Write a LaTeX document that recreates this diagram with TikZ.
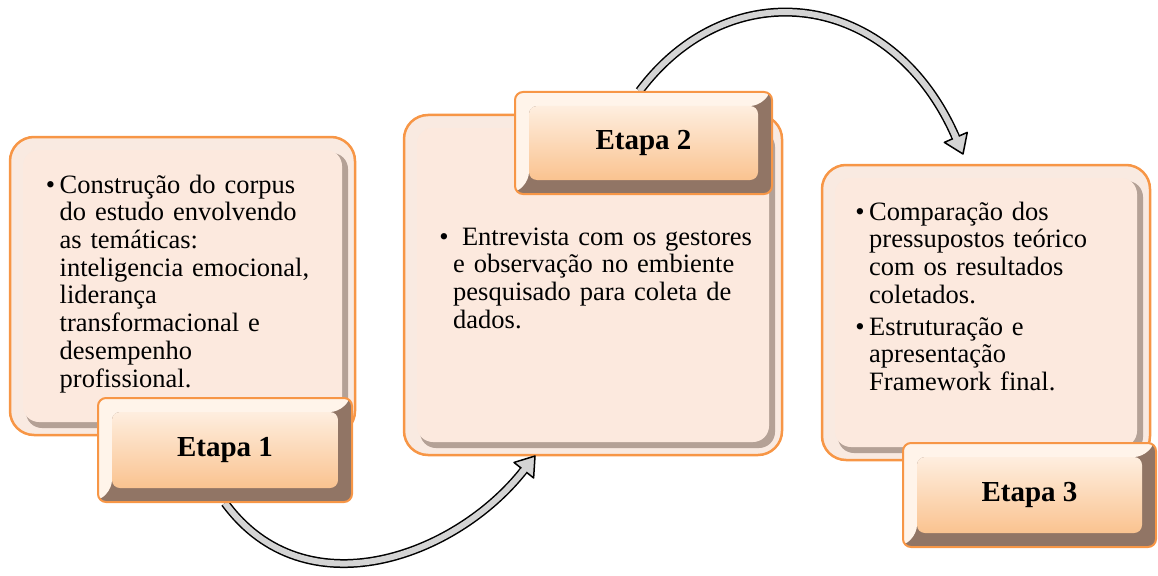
\documentclass[tikz,border=0pt]{standalone}
\usepackage{fontspec}
\setmainfont{Liberation Serif}
\usetikzlibrary{calc}
\definecolor{boxorange}{HTML}{F79646}
\definecolor{panelhi}{HTML}{F9EAE1}
\definecolor{panelshade}{HTML}{B4A196}
\definecolor{panelbg}{HTML}{FCE9DE}
\definecolor{etdark}{HTML}{917565}
\definecolor{ethi}{HTML}{FFF4EA}
\definecolor{ettop}{HTML}{FEEEDF}
\definecolor{etbot}{HTML}{FAC390}
\definecolor{shaftgray}{HTML}{D4D4D4}
\pgfdeclarelayer{panels}
\pgfdeclarelayer{arrows}
\pgfsetlayers{panels,arrows,main}
\newcommand{\bodyfont}{\fontsize{26.5}{27.7}\selectfont}
\begin{document}
\begin{tikzpicture}[x=1pt,y=-1pt,
  panel/.style={draw=boxorange, line width=2.5pt, rounded corners=24pt, fill=panelhi,
    inner sep=0pt,
    path picture={
      \fill[panelshade, rounded corners=16pt]
        ([shift={(16,16)}]path picture bounding box.north west) rectangle
        ([shift={(-7,-7)}]path picture bounding box.south east);
      \fill[panelbg, rounded corners=16pt]
        ([shift={(13,13)}]path picture bounding box.north west) rectangle
        ([shift={(-13,-13)}]path picture bounding box.south east);
    }},
  etapabox/.style={draw=boxorange, line width=2pt, rounded corners=8pt, fill=etdark,
    inner sep=0pt, font=\bfseries\fontsize{29}{32}\selectfont,
    path picture={
      \fill[ethi] (path picture bounding box.north west)
        -- (path picture bounding box.north east)
        -- ([shift={(-14,14)}]path picture bounding box.north east)
        -- ([shift={(14,14)}]path picture bounding box.north west)
        -- ([shift={(14,-14)}]path picture bounding box.south west)
        -- (path picture bounding box.south west) -- cycle;
      \shade[top color=ettop, bottom color=etbot]
        ([shift={(14,14)}]path picture bounding box.north west) rectangle
        ([shift={(-14,-14)}]path picture bounding box.south east);
    }},
  bodytext/.style={anchor=north west, inner sep=0pt, align=left, font=\bodyfont},
  shaft/.style={draw=black, line width=1.5pt, double=shaftgray, double distance=6pt},
  head/.style={fill=shaftgray, draw=black, line width=1.5pt, line join=round}
]
\useasboundingbox (0,0) rectangle (1158,575);

\begin{pgfonlayer}{panels}
\node[panel, minimum width=345pt, minimum height=298pt] (b1) at (182.5,286) {};
\node[panel, minimum width=378pt, minimum height=340pt] (b2) at (593,285) {};
\node[panel, minimum width=328pt, minimum height=295pt] (b3) at (986,312.5) {};

\node[bodytext, text width=300pt] (t1) at (59.5,173.6)
  {\strut\llap{\textbullet\hspace{4.5pt}}Construção do corpus\\
   do estudo envolvendo\\
   as temáticas:\\
   inteligencia emocional,\\
   liderança\\
   transformacional e\\
   desempenho\\
   profissional.};
\node[bodytext, text width=320pt] (t2) at (453,225.6)
  {\strut\llap{\textbullet\hspace{4.5pt}}\ Entrevista com os gestores\\
   e observação no embiente\\
   pesquisado para coleta de\\
   dados.};
\node[bodytext, text width=270pt] (t3) at (869,200.6)
  {\strut\llap{\textbullet\hspace{4.5pt}}Comparação dos\\
   pressupostos teórico\\
   com os resultados\\
   coletados.};
\node[bodytext, text width=270pt] (t3b) at (869,315.6)
  {\strut\llap{\textbullet\hspace{4.5pt}}Estruturação e\\
   apresentação\\
   Framework final.};
\end{pgfonlayer}

\node[etapabox, minimum width=254pt, minimum height=104pt] (e1) at (225,450) {Etapa 1};
\node[etapabox, minimum width=257pt, minimum height=102pt] (e2) at (643.5,143) {Etapa 2};
\node[etapabox, minimum width=253pt, minimum height=104pt] (e3) at (1029.5,495) {Etapa 3};

\begin{pgfonlayer}{arrows}
\coordinate (h1tip) at (535,456);
\coordinate (h1base) at (523.8,470.2);
\draw[shaft] (e1.south) .. controls (305,612) and (455.6,557) .. (h1base);
\draw[head] (h1tip) -- ($(h1base)!12.5pt!90:(h1tip)$) -- ($(h1base)!12.5pt!-90:(h1tip)$) -- cycle;
\draw[shaftgray, line width=6pt] ($(h1base)!-3pt!(h1tip)$) -- ($(h1base)!4pt!(h1tip)$);

\coordinate (h2tip) at (963,154);
\coordinate (h2base) at (955.8,137.4);
\draw[shaft] ([xshift=-4pt]e2.north) .. controls (730,-30) and (891.8,-9.8) .. (h2base);
\draw[head] (h2tip) -- ($(h2base)!12.5pt!90:(h2tip)$) -- ($(h2base)!12.5pt!-90:(h2tip)$) -- cycle;
\draw[shaftgray, line width=6pt] ($(h2base)!-3pt!(h2tip)$) -- ($(h2base)!4pt!(h2tip)$);
\end{pgfonlayer}
\end{tikzpicture}
\end{document}
